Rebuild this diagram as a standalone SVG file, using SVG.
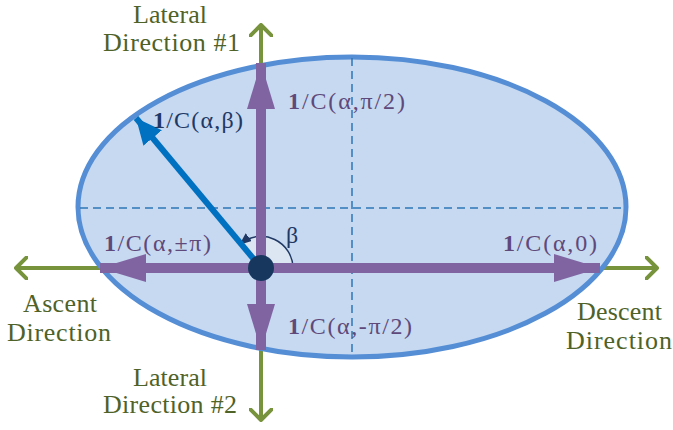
<svg xmlns="http://www.w3.org/2000/svg" width="673" height="430" viewBox="0 0 673 430">
<style>
.g{font-family:"Liberation Serif","DejaVu Serif",serif;font-size:26px;fill:#4F6228}
.p{font-family:"Liberation Serif","DejaVu Serif",serif;font-size:24px;fill:#5F497A}
.n{font-family:"Liberation Serif","DejaVu Serif",serif;font-size:24px;fill:#1F3864}
.green{stroke:#77933C;stroke-width:4;fill:none}
.purple{stroke:#8064A2;stroke-width:10;fill:none}
.dash{stroke:#2E75B6;stroke-width:1.5;stroke-dasharray:8 5;fill:none}
</style>
<defs>
<marker id="chev" viewBox="0 0 14 24" refX="12" refY="12" markerWidth="14" markerHeight="24" markerUnits="userSpaceOnUse" orient="auto">
<path d="M1,1 L12,12 L1,23" fill="none" stroke="#77933C" stroke-width="4" stroke-linecap="round" stroke-linejoin="round"/>
</marker>
<marker id="parr" viewBox="0 0 46 28" refX="46" refY="14" markerWidth="46" markerHeight="28" markerUnits="userSpaceOnUse" orient="auto">
<path d="M0,0 L46,14 L0,28 Z" fill="#8064A2"/>
</marker>
<marker id="barr" viewBox="0 0 26 24" refX="26" refY="12" markerWidth="26" markerHeight="24" markerUnits="userSpaceOnUse" orient="auto">
<path d="M0,0 L26,12 L0,24 Z" fill="#0070C0"/>
</marker>
<marker id="narr" viewBox="0 0 12 10" refX="10" refY="5" markerWidth="12" markerHeight="10" markerUnits="userSpaceOnUse" orient="auto">
<path d="M0,0 L12,5 L0,10 Z" fill="#1F3864"/>
</marker>
</defs>
<g id="connectors-green">
<line class="green" x1="261" y1="268" x2="16" y2="268" marker-end="url(#chev)"/>
<line class="green" x1="261" y1="268" x2="657" y2="268" marker-end="url(#chev)"/>
<line class="green" x1="261" y1="268" x2="261" y2="25" marker-end="url(#chev)"/>
<line class="green" x1="261" y1="268" x2="261" y2="420" marker-end="url(#chev)"/>
</g>
<g id="ellipse">
<ellipse cx="352" cy="207" rx="274" ry="150" fill="#C6D9F1" stroke="#558ED5" stroke-width="5"/>
<line class="dash" x1="80" y1="208" x2="625" y2="208"/>
<line class="dash" x1="352" y1="58" x2="352" y2="355"/>
</g>
<g id="beta-arc">
<path d="M261,268 L293,268 A32,32 0 0 0 240.5,243.4 Z" fill="#DCE6F2"/>
<path d="M293,268 A32,32 0 0 0 241,243.4" fill="none" stroke="#1F3864" stroke-width="1.5" marker-end="url(#narr)"/>
</g>
<g id="connectors">
<line class="purple" x1="261" y1="268" x2="100" y2="268" marker-end="url(#parr)"/>
<line class="purple" x1="261" y1="268" x2="600" y2="268" marker-end="url(#parr)"/>
<line class="purple" x1="261" y1="268" x2="261" y2="63" marker-end="url(#parr)"/>
<line class="purple" x1="261" y1="268" x2="261" y2="350" marker-end="url(#parr)"/>
<line x1="257" y1="263" x2="136" y2="118" stroke="#0070C0" stroke-width="6" marker-end="url(#barr)"/>
</g>
<g id="origin">
<circle cx="261" cy="268" r="13" fill="#17375E"/>
</g>
<g id="labels">
<text class="n" x="153" y="128" textLength="90"><tspan font-weight="bold">1</tspan>/C(α,β)</text>
<text class="p" x="288" y="109" textLength="117"><tspan font-weight="bold">1</tspan>/C(α,π/2)</text>
<text class="p" x="104" y="251" textLength="107"><tspan font-weight="bold">1</tspan>/C(α,±π)</text>
<text class="p" x="503" y="251" textLength="94"><tspan font-weight="bold">1</tspan>/C(α,0)</text>
<text class="p" x="288" y="334" textLength="124"><tspan font-weight="bold">1</tspan>/C(α,-π/2)</text>
<text class="n" x="286" y="243" font-size="26">β</text>
</g>
<g id="lateral1">
<text class="g" x="133" y="23" textLength="74">Lateral</text>
<text class="g" x="103" y="51" textLength="137">Direction #1</text>
</g>
<g id="ascent">
<text class="g" x="23" y="312" textLength="74">Ascent</text>
<text class="g" x="7" y="341" textLength="104">Direction</text>
</g>
<g id="descent">
<text class="g" x="577" y="320" textLength="85">Descent</text>
<text class="g" x="566" y="349" textLength="106">Direction</text>
</g>
<g id="lateral2">
<text class="g" x="133" y="386" textLength="74">Lateral</text>
<text class="g" x="103" y="413" textLength="134">Direction #2</text>
</g>
</svg>
